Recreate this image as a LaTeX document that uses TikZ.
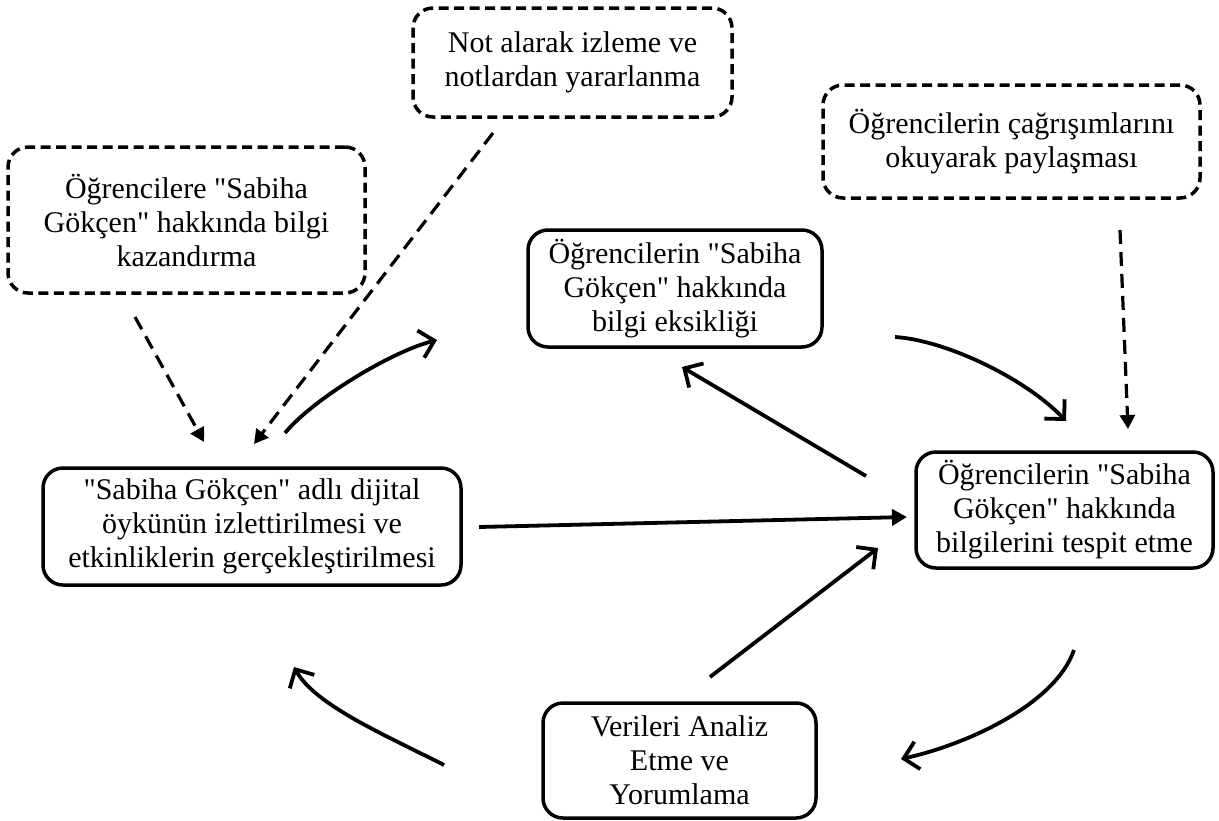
\documentclass[tikz,border=0pt]{standalone}
\usepackage{fontspec}
\setmainfont{Liberation Serif}[Ligatures=TeXOff]
\usetikzlibrary{arrows.meta}
\begin{document}
\begin{tikzpicture}[x=1pt,y=-1pt,
  txt/.style={font=\fontsize{30}{34}\selectfont, align=center, inner sep=0pt},
  solidbox/.style={txt, draw, line width=3.5pt, rounded corners=20pt},
  dashbox/.style={txt, draw, line width=3.5pt, rounded corners=20pt, dash pattern=on 10pt off 5.5pt},
  openarrow/.style={line width=3.8pt, -{Straight Barb[length=14pt,width=28pt,line width=3.8pt]}},
  fillarrow/.style={line width=3.8pt, -{Triangle[length=15pt,width=16pt]}},
  dasharrow/.style={line width=3.2pt, dash pattern=on 14pt off 8pt, -{Triangle[length=14pt,width=15pt]}}
]
\useasboundingbox (0,0) rectangle (1219,820);

% process boxes
\node[dashbox, minimum width=357pt, minimum height=146pt] (kazan) at (186.5,220)
  {Öğrencilere "Sabiha\\Gökçen" hakkında bilgi\\kazandırma};
\node[dashbox, minimum width=319pt, minimum height=109pt] (notal) at (572.5,62.5)
  {Not alarak izleme ve\\notlardan yararlanma};
\node[dashbox, minimum width=377pt, minimum height=113pt] (cagri) at (1011.5,141.5)
  {Öğrencilerin çağrışımlarını\\okuyarak paylaşması};
\node[solidbox, minimum width=294pt, minimum height=117pt] (eksik) at (675,288.5)
  {Öğrencilerin "Sabiha\\Gökçen" hakkında\\bilgi eksikliği};
\node[solidbox, minimum width=297pt, minimum height=116pt] (tespit) at (1064.5,510)
  {Öğrencilerin "Sabiha\\Gökçen" hakkında\\bilgilerini tespit etme};
\node[solidbox, minimum width=418pt, minimum height=117pt] (oyku) at (252,526.5)
  {"Sabiha Gökçen" adlı dijital\\öykünün izlettirilmesi ve\\etkinliklerin gerçekleştirilmesi};
\node[solidbox, minimum width=273pt, minimum height=115pt] (analiz) at (679.5,760.5)
  {Verileri Analiz\\Etme ve\\Yorumlama};

% free ends of the connectors
\coordinate (kazanA) at (135,317);   \coordinate (kazanB) at (204,442);
\coordinate (notalA) at (493,133);   \coordinate (notalB) at (254,444);
\coordinate (cagriA) at (1120,230);  \coordinate (cagriB) at (1128,429);
\coordinate (oykuA) at (285,433);    \coordinate (oykuB) at (437,340);
\coordinate (eksikA) at (895,337);   \coordinate (eksikB) at (1066,421);
\coordinate (tesA) at (866,476);     \coordinate (tesB) at (682,367);
\coordinate (midA) at (479,527);     \coordinate (midB) at (907,517);
\coordinate (anA) at (710,677);      \coordinate (anB) at (878,548);
\coordinate (tesC) at (1074,650);    \coordinate (tesD) at (901,759);
\coordinate (anC) at (444,765);      \coordinate (anD) at (294,667);

% dashed inputs
\draw[dasharrow] (kazanA) -- (kazanB);
\draw[dasharrow] (notalA) -- (notalB);
\draw[dasharrow] (cagriA) -- (cagriB);

% cycle arrows
\draw[openarrow] (oykuA) .. controls (312,400) and (390,352) .. (oykuB);
\draw[openarrow] (eksikA) .. controls (945,340) and (1025,378) .. (eksikB);
\draw[openarrow] (tesA) -- (tesB);
\draw[fillarrow] (midA) -- (midB);
\draw[openarrow] (anA) -- (anB);
\draw[openarrow] (tesC) .. controls (1055,705) and (965,745) .. (tesD);
\draw[openarrow] (anC) .. controls (385,735) and (315,705) .. (anD);
\end{tikzpicture}
\end{document}
